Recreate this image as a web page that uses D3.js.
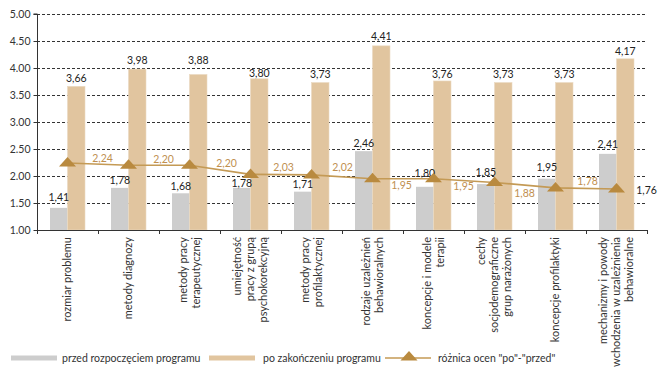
<!DOCTYPE html>
<html>
<head>
<meta charset="utf-8">
<script src="https://cdn.jsdelivr.net/npm/d3@7"></script>
<style>
  html, body { margin: 0; padding: 0; background: #fff; }
  svg { display: block; font-family: Lato, "Open Sans", sans-serif; }
</style>
</head>
<body>
<svg id="chart" width="664" height="373"></svg>
<script>
// ---- data ----
const categories = [
  "rozmiar problemu",
  "metody diagnozy",
  "metody pracy\nterapeutycznej",
  "umiejętność\npracy z grupą\npsychokorekcyjną",
  "metody pracy\nprofilaktycznej",
  "rodzaje uzależnień\nbehawioralnych",
  "koncepcje i modele\nterapii",
  "cechy\nsocjodemograficzne\ngrup narażonych",
  "koncepcje profilaktyki",
  "mechanizmy i powody\nwchodzenia w uzależnienia\nbehawioralne"
];
const before = [1.41, 1.78, 1.68, 1.78, 1.71, 2.46, 1.80, 1.85, 1.95, 2.41];
const after  = [3.66, 3.98, 3.88, 3.80, 3.73, 4.41, 3.76, 3.73, 3.73, 4.17];
const diff   = [2.24, 2.20, 2.20, 2.03, 2.02, 1.95, 1.95, 1.88, 1.78, 1.76];
const yTicks = [1.00, 1.50, 2.00, 2.50, 3.00, 3.50, 4.00, 4.50, 5.00];
const seriesNames = ["przed rozpoczęciem programu", "po zakończeniu programu", "różnica ocen \"po\"-\"przed\""];

// ---- styling ----
const colGray = "#cdcdcd", colTan = "#e1c59f", colLine = "#c49a55", colTri = "#b98a3f", colLabel = "#c09050";
// label offsets for difference labels (dx, dy relative to point)
const diffLabelOffset = [[35,-5],[35,-6],[37,-1.5],[33,-7],[31,-8],[29,7],[30,8],[30,11],[32,-6.5],[30,1.5]];
// gap between bar top and value label baseline (px)
const beforeLabelGap = [6, 3, 2, 0, 3, 3, 9, 7, 7, 5];
const afterLabelGap  = [3, 4, 9, 1, 4, 5, 2, 4, 4, 3];

const svg = d3.select("#chart");
const mLeft = 37, mRight = 647, mTop = 14, mBottom = 230;

const x = d3.scaleBand().domain(categories).range([mLeft, mRight]).padding(0);
const y = d3.scaleLinear().domain([1, 5]).range([mBottom, mTop]);
const fmtComma = v => d3.format(".2f")(v).replace(".", ",");
const barW = 17.5;

// gridlines
svg.append("g").selectAll("line").data(yTicks.filter(t => t > 1)).join("line")
  .attr("x1", mLeft).attr("x2", mRight - 1)
  .attr("y1", d => Math.round(y(d)) + 0.5).attr("y2", d => Math.round(y(d)) + 0.5)
  .attr("stroke", "#333").attr("stroke-width", 1).attr("stroke-dasharray", "3,2");

// bars
const gBars = svg.append("g");
gBars.selectAll("rect.b").data(before).join("rect")
  .attr("x", (d, i) => x(categories[i]) + x.bandwidth() / 2 - barW)
  .attr("width", barW)
  .attr("y", d => y(d)).attr("height", d => y(1) - y(d))
  .attr("fill", colGray);
gBars.selectAll("rect.a").data(after).join("rect")
  .attr("x", (d, i) => x(categories[i]) + x.bandwidth() / 2)
  .attr("width", barW)
  .attr("y", d => y(d)).attr("height", d => y(1) - y(d))
  .attr("fill", colTan).attr("stroke", "#ead9c1").attr("stroke-width", 0.6);

// y axis
const yAxis = d3.axisLeft(y).tickValues(yTicks).tickFormat(d3.format(".2f")).tickSize(4).tickPadding(3);
const gy = svg.append("g").attr("transform", `translate(${mLeft + 0.5},0)`).call(yAxis);
gy.select(".domain").attr("stroke", "#333").attr("d", `M-4,${mTop}H0V${mBottom}`);
gy.selectAll(".tick line").attr("stroke", "#333");
gy.selectAll(".tick text").attr("fill", "#333").style("font-size", "10.5px").style("font-family", "Lato, sans-serif");

// x axis line + ticks at band boundaries
svg.append("line").attr("x1", mLeft).attr("x2", mRight + 0.5)
  .attr("y1", mBottom + 0.5).attr("y2", mBottom + 0.5).attr("stroke", "#333");
const bounds = categories.map(c => x(c)).concat([mRight]);
svg.append("g").selectAll("line").data(bounds).join("line")
  .attr("x1", d => Math.round(d) + 0.5).attr("x2", d => Math.round(d) + 0.5)
  .attr("y1", mBottom).attr("y2", mBottom + 4).attr("stroke", "#333");

// x labels
const gx = svg.append("g").selectAll("g").data(categories).join("g")
  .attr("transform", d => `translate(${x(d) + x.bandwidth() / 2},237) rotate(-90)`);
gx.each(function(d) {
  const lines = d.split("\n");
  const t = d3.select(this).append("text").attr("text-anchor", "end")
    .attr("fill", "#333").style("font-size", "11px");
  lines.forEach((ln, j) => {
    t.append("tspan").attr("x", 0).attr("y", (j - (lines.length - 1) / 2) * 13).attr("dy", "0.35em").text(ln);
  });
});

// bar value labels
const gv = svg.append("g").style("font-size", "10.5px").attr("fill", "#222").attr("text-anchor", "middle");
gv.selectAll("text.b").data(before).join("text")
  .attr("x", (d, i) => x(categories[i]) + x.bandwidth() / 2 - barW / 2)
  .attr("y", (d, i) => y(d) - beforeLabelGap[i] - 1).text(fmtComma);
gv.selectAll("text.a").data(after).join("text")
  .attr("x", (d, i) => x(categories[i]) + x.bandwidth() / 2 + barW / 2)
  .attr("y", (d, i) => y(d) - afterLabelGap[i] - 1).text(fmtComma);

// difference line
const cx = i => x(categories[i]) + x.bandwidth() / 2;
const line = d3.line().x((d, i) => cx(i)).y(d => y(d));
svg.append("path").datum(diff).attr("d", line)
  .attr("fill", "none").attr("stroke", colLine).attr("stroke-width", 1.6);
const triPath = "M0,-6L8.5,3.5L-8.5,3.5Z";
svg.append("g").selectAll("path").data(diff).join("path")
  .attr("transform", (d, i) => `translate(${cx(i)},${y(d)})`)
  .attr("d", triPath).attr("fill", colTri);
svg.append("g").style("font-size", "10.5px").attr("text-anchor", "middle")
  .selectAll("text").data(diff).join("text")
  .attr("fill", (d, i) => i === diff.length - 1 ? "#222" : colLabel)
  .attr("x", (d, i) => cx(i) + diffLabelOffset[i][0])
  .attr("y", (d, i) => y(d) + diffLabelOffset[i][1])
  .attr("dy", "0.35em").text(fmtComma);

// legend
const lg = svg.append("g").style("font-size", "10.5px").attr("fill", "#333");
const ly = 358;
lg.append("rect").attr("x", 11).attr("y", ly - 2.5).attr("width", 46).attr("height", 5).attr("fill", colGray);
lg.append("text").attr("x", 62).attr("y", ly).attr("dy", "0.35em").text(seriesNames[0]);
lg.append("rect").attr("x", 209).attr("y", ly - 2.5).attr("width", 46).attr("height", 5).attr("fill", colTan);
lg.append("text").attr("x", 263).attr("y", ly).attr("dy", "0.35em").text(seriesNames[1]);
lg.append("line").attr("x1", 385).attr("x2", 431).attr("y1", ly).attr("y2", ly)
  .attr("stroke", colLine).attr("stroke-width", 1.6);
lg.append("path").attr("transform", `translate(409,${ly - 1})`).attr("d", triPath).attr("fill", colTri);
lg.append("text").attr("x", 438).attr("y", ly).attr("dy", "0.35em").text(seriesNames[2]);
</script>
</body>
</html>
